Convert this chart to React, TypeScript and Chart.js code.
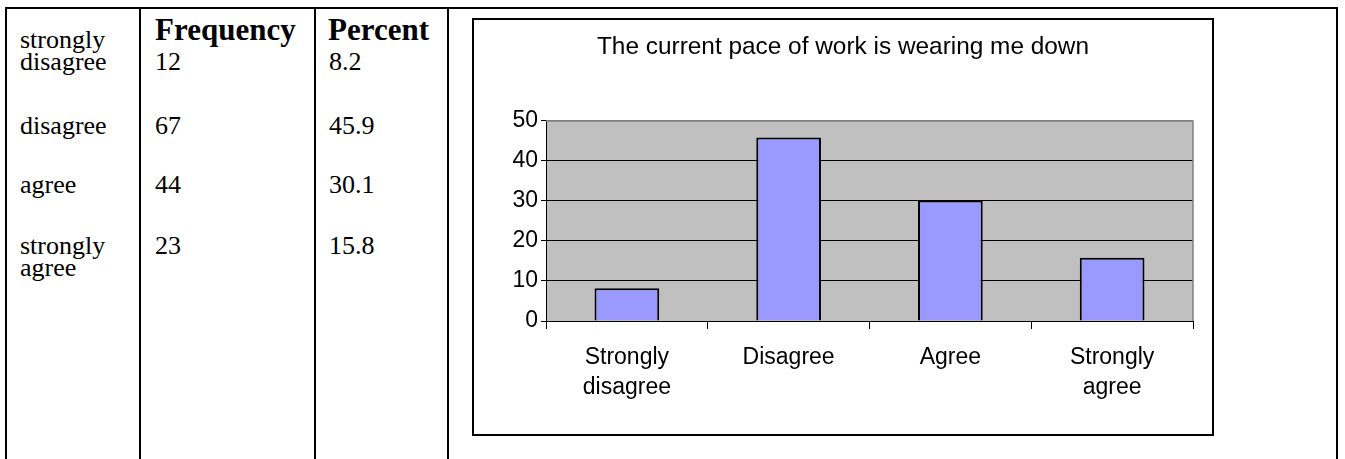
import React, { useEffect, useRef } from "react";
import { Chart, registerables } from "chart.js";

Chart.register(...registerables);

// ---- data ----
const chartTitle = "The current pace of work is wearing me down";
const categories: string[][] = [["Strongly", "disagree"], ["Disagree"], ["Agree"], ["Strongly", "agree"]];
const percentValues = [8.2, 45.9, 30.1, 15.8];
const yTicks = [0, 10, 20, 30, 40, 50];

const tableHeaders = ["Frequency", "Percent"];
const tableRowLabels: string[][] = [["strongly", "disagree"], ["disagree"], ["agree"], ["strongly", "agree"]];
const frequencyValues = ["12", "67", "44", "23"];
const percentLabels = ["8.2", "45.9", "30.1", "15.8"];

// ---- layout (styles) ----
const SERIF = "'Liberation Serif', 'Times New Roman', Times, serif";
const SANS = "Arial, 'Liberation Sans', sans-serif";
const TABLE_FONT = 26;
const LINE_H = 22;
const labelTops = [[40, 62], [126], [185], [246, 268]];
const valueTops = [62, 126, 185, 246];

const line = (left: number, top: number, width: number, height: number): React.CSSProperties => ({
  position: "absolute", left, top, width, height, background: "#000",
});

export default function App() {
  const canvasRef = useRef<HTMLCanvasElement | null>(null);

  useEffect(() => {
    const canvas = canvasRef.current;
    if (!canvas) return;

    const plotBg = {
      id: "plotBg",
      beforeDraw(chart: any) {
        const { ctx, chartArea: a } = chart;
        ctx.save();
        ctx.fillStyle = "#C0C0C0";
        ctx.fillRect(a.left, a.top, a.right - a.left, a.bottom - a.top);
        ctx.restore();
      },
      beforeDatasetsDraw(chart: any) {
        const { ctx, chartArea: a } = chart;
        ctx.save();
        ctx.strokeStyle = "#808080";
        ctx.lineWidth = 1.5;
        ctx.beginPath();
        ctx.moveTo(a.left, a.top);
        ctx.lineTo(a.right, a.top);
        ctx.lineTo(a.right, a.bottom);
        ctx.stroke();
        ctx.restore();
      },
    };

    const fontSize = 23;
    const chart = new Chart(canvas, {
      type: "bar",
      data: {
        labels: categories,
        datasets: [
          {
            data: percentValues,
            backgroundColor: "#9999FF",
            borderColor: "#000000",
            borderWidth: 2,
            barPercentage: 0.4,
            categoryPercentage: 1,
          },
        ],
      },
      options: {
        responsive: false,
        animation: false,
        devicePixelRatio: 1,
        layout: { padding: { left: 19, right: 19, top: 0, bottom: 13 } },
        plugins: {
          legend: { display: false },
          tooltip: { enabled: false },
          title: {
            display: true,
            text: chartTitle,
            color: "#000",
            font: { family: SANS, size: 24.4, weight: "normal", lineHeight: 1.2 },
            padding: { top: 12.4, bottom: 59.3 },
          },
        },
        scales: {
          x: {
            offset: true,
            grid: {
              display: true,
              offset: true,
              drawOnChartArea: false,
              drawTicks: true,
              tickLength: 8,
              color: "#000",
            },
            border: { display: true, color: "#000", width: 1 },
            ticks: {
              color: "#000",
              font: { family: SANS, size: fontSize, lineHeight: 30 / fontSize },
              padding: 14,
              maxRotation: 0,
              autoSkip: false,
            },
            afterFit(s: any) {
              s.height = 100;
            },
          },
          y: {
            min: 0,
            max: 50,
            afterBuildTicks(s: any) {
              s.ticks = yTicks.map((v) => ({ value: v }));
            },
            ticks: { color: "#000", font: { family: SANS, size: fontSize }, padding: 3 },
            grid: {
              color: (c: any) => (c.tick && c.tick.value === 50 ? "#808080" : "#000"),
              tickColor: "#000",
              tickLength: 5,
              lineWidth: 1,
            },
            border: { display: true, color: "#000", width: 1 },
            afterFit(s: any) {
              s.width = 53;
            },
          },
        },
      },
      plugins: [plotBg],
    } as any);

    return () => chart.destroy();
  }, []);

  const textStyle: React.CSSProperties = {
    position: "absolute",
    fontFamily: SERIF,
    fontSize: TABLE_FONT,
    lineHeight: `${LINE_H}px`,
    color: "#000",
    whiteSpace: "nowrap",
  };
  const headStyle: React.CSSProperties = {
    ...textStyle,
    fontWeight: "bold",
    fontSize: 31,
    lineHeight: "28px",
  };

  return (
    <div style={{ position: "fixed", left: 0, top: 0, width: 1345, height: 459, background: "#fff", overflow: "hidden" }}>
      {/* table grid lines */}
      <div style={line(5, 7, 1333, 2)} />
      <div style={line(5, 7, 2, 452)} />
      <div style={line(139, 7, 2, 452)} />
      <div style={line(314, 7, 2, 452)} />
      <div style={line(447, 7, 2, 452)} />
      <div style={line(1336, 7, 2, 452)} />

      {/* table headers */}
      <div style={{ ...headStyle, left: 155, top: 30 - 14 }}>{tableHeaders[0]}</div>
      <div style={{ ...headStyle, left: 328, top: 30 - 14 }}>{tableHeaders[1]}</div>

      {/* table rows */}
      {tableRowLabels.map((lines, i) =>
        lines.map((t, j) => (
          <div key={`l${i}-${j}`} style={{ ...textStyle, left: 20, top: labelTops[i][j] - LINE_H / 2 }}>{t}</div>
        ))
      )}
      {frequencyValues.map((t, i) => (
        <div key={`f${i}`} style={{ ...textStyle, left: 155, top: valueTops[i] - LINE_H / 2 }}>{t}</div>
      ))}
      {percentLabels.map((t, i) => (
        <div key={`p${i}`} style={{ ...textStyle, left: 329, top: valueTops[i] - LINE_H / 2 }}>{t}</div>
      ))}

      {/* chart box */}
      <div
        style={{
          position: "absolute",
          left: 472,
          top: 18,
          width: 742,
          height: 418,
          border: "2px solid #000",
          boxSizing: "border-box",
          background: "#fff",
        }}
      >
        <canvas ref={canvasRef} width={738} height={414} style={{ display: "block", width: 738, height: 414 }} />
      </div>
    </div>
  );
}
